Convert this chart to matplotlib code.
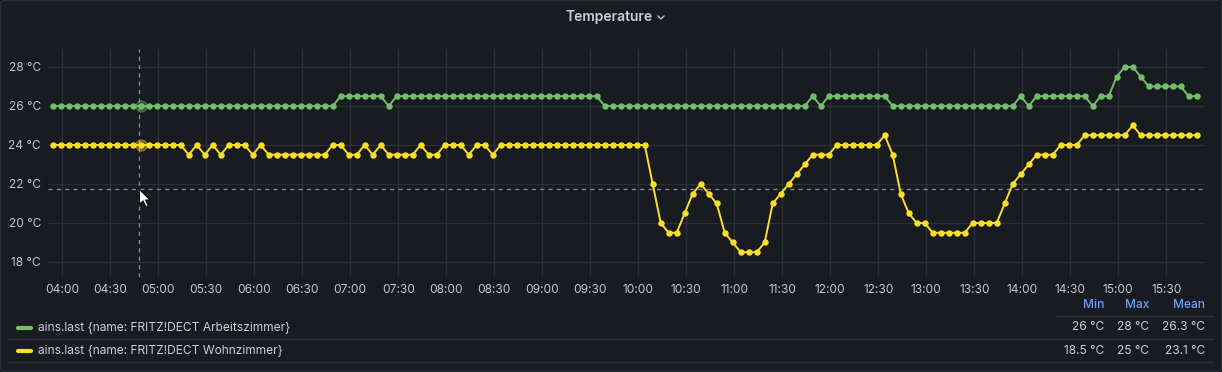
import matplotlib
matplotlib.use("Agg")
import matplotlib.pyplot as plt
import matplotlib.dates as mdates
from matplotlib.path import Path
from matplotlib.patches import FancyBboxPatch
from matplotlib.lines import Line2D
from matplotlib.transforms import IdentityTransform
import pandas as pd

W, H = 1222, 372

# one row = one hour of 5 minute samples, starting 03:54
arbeitszimmer = [
    26, 26, 26, 26, 26, 26, 26, 26, 26, 26, 26, 26,
    26, 26, 26, 26, 26, 26, 26, 26, 26, 26, 26, 26,
    26, 26, 26, 26, 26, 26, 26, 26, 26, 26, 26, 26,
    26.5, 26.5, 26.5, 26.5, 26.5, 26.5, 26, 26.5, 26.5, 26.5, 26.5, 26.5,
    26.5, 26.5, 26.5, 26.5, 26.5, 26.5, 26.5, 26.5, 26.5, 26.5, 26.5, 26.5,
    26.5, 26.5, 26.5, 26.5, 26.5, 26.5, 26.5, 26.5, 26.5, 26, 26, 26,
    26, 26, 26, 26, 26, 26, 26, 26, 26, 26, 26, 26,
    26, 26, 26, 26, 26, 26, 26, 26, 26, 26, 26, 26.5,
    26, 26.5, 26.5, 26.5, 26.5, 26.5, 26.5, 26.5, 26.5, 26, 26, 26,
    26, 26, 26, 26, 26, 26, 26, 26, 26, 26, 26, 26,
    26, 26.5, 26, 26.5, 26.5, 26.5, 26.5, 26.5, 26.5, 26.5, 26, 26.5,
    26.5, 27.5, 28, 28, 27.5, 27, 27, 27, 27, 27, 26.5, 26.5,
]
wohnzimmer = [
    24, 24, 24, 24, 24, 24, 24, 24, 24, 24, 24, 24,
    24, 24, 24, 24, 24, 23.5, 24, 23.5, 24, 23.5, 24, 24,
    24, 23.5, 24, 23.5, 23.5, 23.5, 23.5, 23.5, 23.5, 23.5, 23.5, 24,
    24, 23.5, 23.5, 24, 23.5, 24, 23.5, 23.5, 23.5, 23.5, 24, 23.5,
    23.5, 24, 24, 24, 23.5, 24, 24, 23.5, 24, 24, 24, 24,
    24, 24, 24, 24, 24, 24, 24, 24, 24, 24, 24, 24,
    24, 24, 24, 22, 20, 19.5, 19.5, 20.5, 21.5, 22, 21.5, 21,
    19.5, 19, 18.5, 18.5, 18.5, 19, 21, 21.5, 22, 22.5, 23, 23.5,
    23.5, 23.5, 24, 24, 24, 24, 24, 24, 24.5, 23.5, 21.5, 20.5,
    20, 20, 19.5, 19.5, 19.5, 19.5, 19.5, 20, 20, 20, 20, 21,
    22, 22.5, 23, 23.5, 23.5, 23.5, 24, 24, 24, 24.5, 24.5, 24.5,
    24.5, 24.5, 24.5, 25, 24.5, 24.5, 24.5, 24.5, 24.5, 24.5, 24.5, 24.5,
]
series = [arbeitszimmer, wohnzimmer]
series_names = ["ains.last {name: FRITZ!DECT Arbeitszimmer}",
                "ains.last {name: FRITZ!DECT Wohnzimmer}"]
series_colors = ["#73bf69", "#fade2a"]
times = pd.date_range("2023-01-15 03:54", periods=len(arbeitszimmer), freq="5min")
y_ticks = [18, 20, 22, 24, 26, 28]

hover_index = 11
hover_time = pd.Timestamp("2023-01-15 04:48")
hover_value = 21.75

plt.rcParams['font.family'] = ['Inter', 'DejaVu Sans']
TEXT = '#ccccdc'
GRID = '#2c2f34'


def fx(x):
    return x / W


def fy(y):
    return 1 - y / H


fig = plt.figure(figsize=(W / 100, H / 100), dpi=100, facecolor='#111217')
fig.add_artist(FancyBboxPatch((0.5, 0.5), W - 1, H - 1,
                              boxstyle="round,pad=0,rounding_size=3",
                              facecolor='#181b1f', edgecolor='#2a2d33',
                              linewidth=1, transform=IdentityTransform(),
                              zorder=-5))

ax = fig.add_axes([fx(48), fy(277), fx(1205) - fx(48), fy(49) - fy(277)])
ax.set_facecolor('none')
for s in ax.spines.values():
    s.set_visible(False)
ax.grid(True, color=GRID, linewidth=1)
ax.set_axisbelow(True)
ax.tick_params(length=0, colors='#c4c4ce', labelsize=8.6)
ax.tick_params(axis='y', pad=5)
ax.tick_params(axis='x', pad=5)
ax.set_yticks(y_ticks)
ax.set_yticklabels([f"{t} °C" for t in y_ticks])
ax.xaxis.set_major_locator(mdates.MinuteLocator(byminute=[0, 30]))
ax.xaxis.set_major_formatter(mdates.DateFormatter('%H:%M'))
ax.set_xlim(pd.Timestamp("2023-01-15 03:51:04"), pd.Timestamp("2023-01-15 15:54:11"))
ax.set_ylim(17.23, 28.92)

for vals, col in zip(series, series_colors):
    ax.plot(times, vals, color=col, lw=1.4, marker='o', ms=3.6, zorder=3)

# hover crosshair
ax.axvline(hover_time, color='#7d8894', lw=1, ls=(0, (3, 3)), zorder=2)
ax.axhline(hover_value, color='#7d8894', lw=1, ls=(0, (3, 3)), zorder=2)
for vals, col in zip(series, series_colors):
    ax.plot(times[hover_index], vals[hover_index], 'o', ms=8, color=col,
            alpha=0.35, zorder=4)

# mouse pointer, tip at the crosshair
cursor = Path([(0, 0), (0, -16), (4, -12.5), (7, -19), (9.5, -18), (6.5, -11.5),
               (11.5, -11.5), (0, 0)],
              [Path.MOVETO] + [Path.LINETO] * 6 + [Path.CLOSEPOLY])
ax.plot(hover_time, hover_value, marker=cursor, ms=25, mfc='white', mec='black',
        mew=0.7, zorder=6, clip_on=False)

# title
fig.text(fx(609), fy(17), "Temperature", ha='center', va='center',
         fontsize=10, color=TEXT, fontweight='semibold')
fig.add_artist(Line2D([fx(658), fx(661), fx(664)], [fy(16), fy(19), fy(16)],
                      color=TEXT, lw=0.9))

# legend table
for x, lab in zip([1104, 1149, 1205], ["Min", "Max", "Mean"]):
    fig.text(fx(x), fy(305), lab, ha='right', va='center', fontsize=8.6,
             color='#6e9fff', fontweight='medium')
fig.add_artist(Line2D([fx(1056), fx(1213)], [fy(316), fy(316)], color=GRID, lw=1))
for row_y, line_y, vals, col, name in zip([327.5, 351], [339, 362], series,
                                          series_colors, series_names):
    fig.add_artist(Line2D([fx(18), fx(31)], [fy(row_y), fy(row_y)], color=col,
                          lw=3, solid_capstyle='round'))
    fig.text(fx(38), fy(row_y), name, ha='left', va='center', fontsize=8.6, color=TEXT)
    stats = [f"{min(vals):g} °C", f"{max(vals):g} °C", f"{sum(vals) / len(vals):.1f} °C"]
    for x, s in zip([1104, 1149, 1205], stats):
        fig.text(fx(x), fy(row_y), s, ha='right', va='center', fontsize=8.6, color=TEXT)
    fig.add_artist(Line2D([fx(8), fx(1213)], [fy(line_y), fy(line_y)], color=GRID, lw=1))

fig.savefig('out.png', dpi=100, facecolor=fig.get_facecolor())
